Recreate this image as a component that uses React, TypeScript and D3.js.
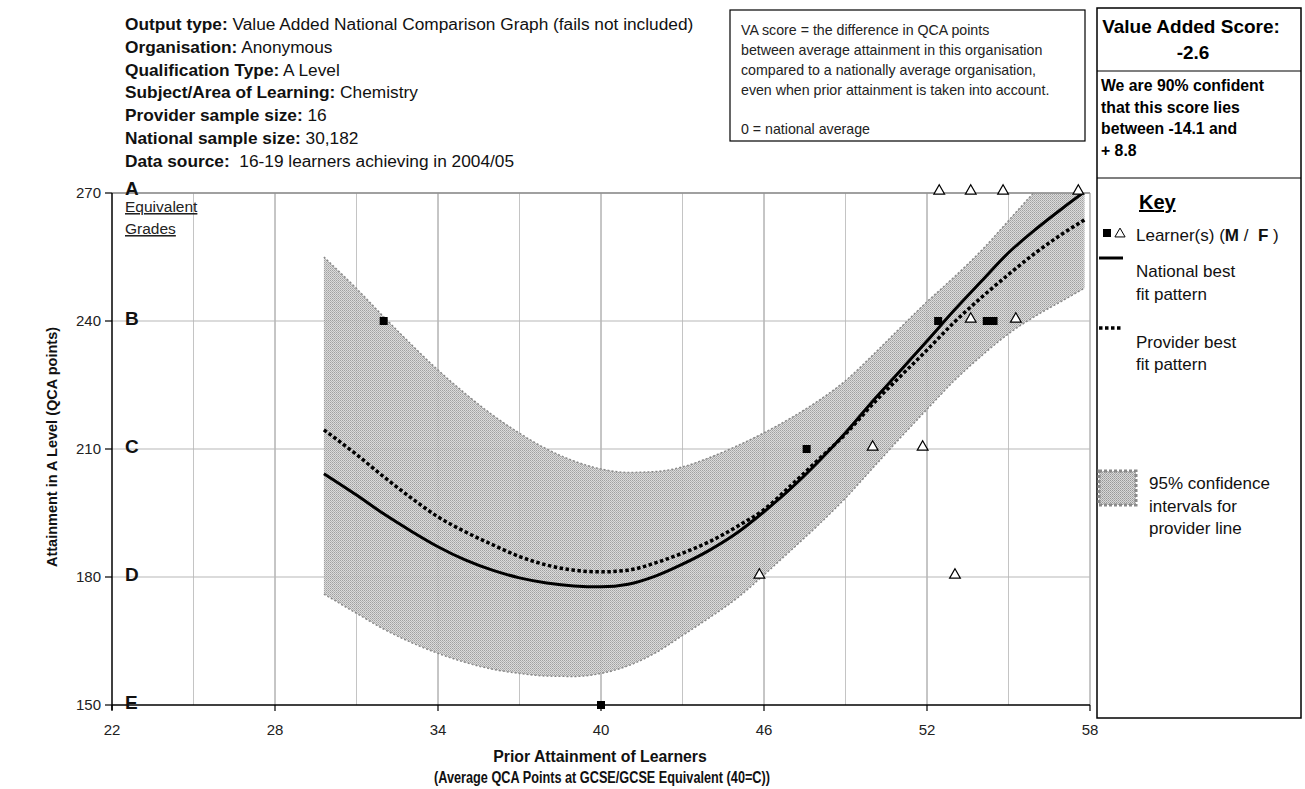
import React, { useEffect, useRef } from 'react';
import * as d3 from 'd3';

// prior attainment (GCSE QCA points) sample positions for fitted curves
const priorX = [29.8, 31, 32, 33, 34, 35, 36, 37, 38, 39, 40, 41, 42, 43, 44, 45, 46, 47, 48, 49, 50, 51, 52, 53, 54, 55, 56, 57, 57.8];
const nationalFit = [204.2, 199.2, 194.8, 190.8, 187.1, 184, 181.6, 179.8, 178.6, 177.9, 177.7, 178.3, 180.2, 183, 186.3, 190.3, 195.3, 200.8, 207, 213.8, 221.2, 228.2, 235.3, 242.5, 249.3, 256, 261.5, 266.5, 270.3];
const providerFit = [214.5, 208.7, 203.5, 198.6, 194.1, 190.6, 187.6, 184.8, 182.8, 181.6, 181.2, 181.6, 183.3, 185.6, 188.3, 191.8, 195.8, 201.5, 207.5, 213.5, 220.5, 226.9, 233.2, 239.7, 245.5, 250.9, 256, 260.5, 263.7];
const ciUpper = [255, 247.6, 241, 234.6, 228.5, 223, 218, 213.7, 210, 207.2, 205.3, 204.5, 204.7, 205.8, 208, 210.7, 213.8, 217.3, 221.3, 226, 232, 238.3, 244.5, 250.3, 256.5, 263.5, 270.5, 276.5, 281];
const ciLower = [176, 171.5, 167.8, 164.7, 162.1, 160, 158.4, 157.4, 156.8, 156.7, 157.4, 159.2, 162.2, 166.3, 170.5, 175, 180.5, 186.3, 192.2, 198.5, 205.5, 212.5, 219.3, 226, 231.8, 237, 241.2, 244.8, 247.7];

// learners
const maleX = [32, 40, 47.57, 52.41, 54.2, 54.45];
const maleY = [240, 150, 210, 240, 240, 240];
const femaleX = [52.45, 53.61, 54.8, 57.57, 53.61, 55.27, 50, 51.84, 45.83, 53.03];
const femaleY = [270, 270, 270, 270, 240, 240, 210, 210, 180, 180];

const xTicks = [22, 28, 34, 40, 46, 52, 58];
const xMinorGrid = [25, 31, 37, 43, 49, 55];
const yTicks = [150, 180, 210, 240, 270];
const gradeLabels = ['E', 'D', 'C', 'B', 'A'];

const headerLines: [string, string][] = [
  ['Output type:', ' Value Added National Comparison Graph (fails not included)'],
  ['Organisation:', ' Anonymous'],
  ['Qualification Type:', ' A Level'],
  ['Subject/Area of Learning:', ' Chemistry'],
  ['Provider sample size:', ' 16'],
  ['National sample size:', ' 30,182'],
  ['Data source:', '  16-19 learners achieving in 2004/05'],
];
const vaLines = [
  'VA score = the difference in QCA points',
  'between average attainment in this organisation',
  'compared to a nationally average organisation,',
  'even when prior attainment is taken into account.',
];
const confLines = ['We are 90% confident', 'that this score lies', 'between -14.1 and', '+ 8.8'];

const FONT = 'Liberation Sans, Arial, sans-serif';

export default function App() {
  const ref = useRef<SVGSVGElement | null>(null);

  useEffect(() => {
    document.body.style.margin = '0';
    const node = ref.current;
    if (!node) return;
    const svg = d3.select(node);
    svg.selectAll('*').remove();
    svg.attr('font-family', FONT);

    const x = d3.scaleLinear().domain([22, 58]).range([112, 1090]);
    const y = d3.scaleLinear().domain([150, 270]).range([705, 193]);

    const defs = svg.append('defs');
    const pat = defs.append('pattern').attr('id', 'stipple').attr('width', 2).attr('height', 2).attr('patternUnits', 'userSpaceOnUse');
    pat.append('rect').attr('width', 2).attr('height', 2).attr('fill', '#d8d8d8');
    pat.append('rect').attr('width', 1).attr('height', 1).attr('fill', '#999');
    pat.append('rect').attr('x', 1).attr('y', 1).attr('width', 1).attr('height', 1).attr('fill', '#adadad');
    defs.append('clipPath').attr('id', 'plotclip').append('rect')
      .attr('x', x(22)).attr('y', y(270)).attr('width', x(58) - x(22)).attr('height', y(150) - y(270));

    // header text
    headerLines.forEach(([lab, val], i) => {
      const t = svg.append('text').attr('x', 125).attr('y', 30 + i * 22.8).attr('font-size', 17.3).attr('fill', '#111');
      t.append('tspan').attr('font-weight', 700).text(lab);
      t.append('tspan').attr('style', 'white-space:pre').text(val);
    });

    // VA explanation box
    svg.append('rect').attr('x', 730).attr('y', 10).attr('width', 355).attr('height', 131).attr('fill', 'none').attr('stroke', '#000').attr('stroke-width', 1.2);
    vaLines.forEach((s, i) => {
      svg.append('text').attr('x', 741).attr('y', 35 + i * 20).attr('font-size', 14.2).attr('fill', '#222').text(s);
    });
    svg.append('text').attr('x', 741).attr('y', 134).attr('font-size', 14.2).attr('fill', '#222').text('0 = national average');

    // right panel
    svg.append('rect').attr('x', 1097).attr('y', 8).attr('width', 204).attr('height', 710).attr('fill', 'none').attr('stroke', '#000').attr('stroke-width', 1.5);
    svg.append('line').attr('x1', 1097).attr('x2', 1301).attr('y1', 71).attr('y2', 71).attr('stroke', '#000').attr('stroke-width', 1.2);
    svg.append('line').attr('x1', 1097).attr('x2', 1301).attr('y1', 178).attr('y2', 178).attr('stroke', '#000').attr('stroke-width', 1.2);
    svg.append('text').attr('x', 1191).attr('y', 33).attr('text-anchor', 'middle').attr('font-size', 19).attr('font-weight', 700).text('Value Added Score:');
    svg.append('text').attr('x', 1193).attr('y', 59).attr('text-anchor', 'middle').attr('font-size', 19).attr('font-weight', 700).text('-2.6');
    confLines.forEach((s, i) => {
      svg.append('text').attr('x', 1101).attr('y', 91 + i * 21.7).attr('font-size', 15.8).attr('font-weight', 700).text(s);
    });

    // key
    svg.append('text').attr('x', 1139).attr('y', 209).attr('font-size', 20).attr('font-weight', 700).attr('text-decoration', 'underline').text('Key');
    svg.append('rect').attr('x', 1103).attr('y', 229).attr('width', 8).attr('height', 8).attr('fill', '#000');
    svg.append('path').attr('d', d3.symbol(d3.symbolTriangle, 45)()).attr('transform', 'translate(1120,234)').attr('fill', '#fff').attr('stroke', '#000');
    const lt = svg.append('text').attr('x', 1136).attr('y', 241).attr('font-size', 17).attr('fill', '#111');
    lt.append('tspan').text('Learner(s) (');
    lt.append('tspan').attr('font-weight', 700).text('M');
    lt.append('tspan').attr('style', 'white-space:pre').text(' /  ');
    lt.append('tspan').attr('font-weight', 700).text('F');
    lt.append('tspan').attr('style', 'white-space:pre').text(' )');
    svg.append('line').attr('x1', 1099).attr('x2', 1123).attr('y1', 258).attr('y2', 258).attr('stroke', '#000').attr('stroke-width', 3);
    svg.append('text').attr('x', 1136).attr('y', 277).attr('font-size', 17).attr('fill', '#111').text('National best');
    svg.append('text').attr('x', 1136).attr('y', 300).attr('font-size', 17).attr('fill', '#111').text('fit pattern');
    svg.append('line').attr('x1', 1099).attr('x2', 1123).attr('y1', 328).attr('y2', 328).attr('stroke', '#000').attr('stroke-width', 3.5).attr('stroke-dasharray', '3.5,2.5');
    svg.append('text').attr('x', 1136).attr('y', 348).attr('font-size', 17).attr('fill', '#111').text('Provider best');
    svg.append('text').attr('x', 1136).attr('y', 370).attr('font-size', 17).attr('fill', '#111').text('fit pattern');
    svg.append('rect').attr('x', 1099).attr('y', 471).attr('width', 37).attr('height', 34).attr('fill', 'url(#stipple)').attr('stroke', '#8a8a8a').attr('stroke-width', 3).attr('stroke-dasharray', '3,2');
    ['95% confidence', 'intervals for', 'provider line'].forEach((s, i) => {
      svg.append('text').attr('x', 1149).attr('y', 489 + i * 22.5).attr('font-size', 17).attr('fill', '#111').text(s);
    });

    // grid
    const g = svg.append('g');
    g.selectAll('line.ming').data(xMinorGrid).enter().append('line')
      .attr('x1', d => x(d)).attr('x2', d => x(d)).attr('y1', y(270)).attr('y2', y(150)).attr('stroke', '#c4c4c4').attr('stroke-width', 1);
    g.selectAll('line.majg').data(xTicks.slice(1)).enter().append('line')
      .attr('x1', d => x(d)).attr('x2', d => x(d)).attr('y1', y(270)).attr('y2', y(150)).attr('stroke', '#8c8c8c').attr('stroke-width', 1);
    g.selectAll('line.hg').data(yTicks.slice(1)).enter().append('line')
      .attr('x1', x(22)).attr('x2', x(58)).attr('y1', d => y(d)).attr('y2', d => y(d)).attr('stroke', '#b8b8b8').attr('stroke-width', 1.2);

    // confidence band
    const plot = svg.append('g').attr('clip-path', 'url(#plotclip)');
    const band = priorX.map((px, i) => ({ x: px, lo: ciLower[i], hi: ciUpper[i] }));
    const area = d3.area<{ x: number; lo: number; hi: number }>().x(d => x(d.x)).y0(d => y(d.lo)).y1(d => y(d.hi)).curve(d3.curveMonotoneX);
    plot.append('path').datum(band).attr('d', area).attr('fill', 'url(#stipple)').attr('opacity', 0.92);
    const edge = d3.line<number>().x((d, i) => x(priorX[i])).y(d => y(d)).curve(d3.curveMonotoneX);
    plot.append('path').datum(ciUpper).attr('d', edge).attr('fill', 'none').attr('stroke', '#8a8a8a').attr('stroke-width', 1.5).attr('stroke-dasharray', '2,2');
    plot.append('path').datum(ciLower).attr('d', edge).attr('fill', 'none').attr('stroke', '#8a8a8a').attr('stroke-width', 1.5).attr('stroke-dasharray', '2,2');

    // fit lines
    plot.append('path').datum(nationalFit).attr('d', edge).attr('fill', 'none').attr('stroke', '#000').attr('stroke-width', 3);
    plot.append('path').datum(providerFit).attr('d', edge).attr('fill', 'none').attr('stroke', '#000').attr('stroke-width', 3.5).attr('stroke-dasharray', '3.5,2.5');

    // axes
    svg.append('line').attr('x1', x(22)).attr('x2', x(58)).attr('y1', y(270)).attr('y2', y(270)).attr('stroke', '#8c8c8c').attr('stroke-width', 1.5);
    svg.append('line').attr('x1', x(22)).attr('x2', x(22)).attr('y1', y(270)).attr('y2', y(150) + 5).attr('stroke', '#000').attr('stroke-width', 1.5);
    svg.append('line').attr('x1', x(22)).attr('x2', x(58)).attr('y1', y(150)).attr('y2', y(150)).attr('stroke', '#000').attr('stroke-width', 1.5);
    svg.selectAll('line.ytk').data(yTicks).enter().append('line')
      .attr('x1', x(22) - 7).attr('x2', x(22)).attr('y1', d => y(d)).attr('y2', d => y(d)).attr('stroke', '#000').attr('stroke-width', 1.2);
    svg.selectAll('line.xtk').data(xTicks).enter().append('line')
      .attr('x1', d => x(d)).attr('x2', d => x(d)).attr('y1', y(150)).attr('y2', y(150) + 6).attr('stroke', '#000').attr('stroke-width', 1.2);
    svg.selectAll('text.ytl').data(yTicks).enter().append('text')
      .attr('x', x(22) - 11).attr('y', d => y(d) + 5).attr('text-anchor', 'end').attr('font-size', 15).attr('fill', '#222').text(d => d);
    svg.selectAll('text.xtl').data(xTicks).enter().append('text')
      .attr('x', d => x(d)).attr('y', y(150) + 30).attr('text-anchor', 'middle').attr('font-size', 15).attr('fill', '#222').text(d => d);

    // grade letters
    svg.selectAll('text.grade').data(yTicks).enter().append('text')
      .attr('x', 125).attr('y', d => y(d) + (d === 270 ? 2 : 4)).attr('font-size', 19).attr('font-weight', 700).attr('fill', '#111').text((d, i) => gradeLabels[i]);
    svg.append('text').attr('x', 125).attr('y', 212).attr('font-size', 15.5).attr('fill', '#222').attr('text-decoration', 'underline').text('Equivalent');
    svg.append('text').attr('x', 125).attr('y', 234).attr('font-size', 15.5).attr('fill', '#222').attr('text-decoration', 'underline').text('Grades');

    // axis titles
    svg.append('text').attr('transform', `translate(57,${(y(270) + y(150)) / 2 - 2}) rotate(-90)`).attr('text-anchor', 'middle')
      .attr('font-size', 14.5).attr('font-weight', 700).attr('fill', '#111').text('Attainment in A Level (QCA points)');
    svg.append('text').attr('x', 600).attr('y', 762).attr('text-anchor', 'middle').attr('font-size', 15.8).attr('font-weight', 700).attr('fill', '#111').text('Prior Attainment of Learners');
    svg.append('text').attr('x', 602).attr('y', 783).attr('text-anchor', 'middle').attr('font-size', 15.8).attr('font-weight', 700).attr('fill', '#111')
      .attr('textLength', 336).attr('lengthAdjust', 'spacingAndGlyphs').text('(Average QCA Points at GCSE/GCSE Equivalent (40=C))');

    // learners
    svg.selectAll('rect.male').data(maleX).enter().append('rect')
      .attr('x', (d) => x(d) - 4).attr('y', (d, i) => y(maleY[i]) - 4).attr('width', 8).attr('height', 8).attr('fill', '#000');
    const tri = d3.symbol(d3.symbolTriangle, 50)();
    svg.selectAll('path.female').data(femaleX).enter().append('path')
      .attr('d', tri).attr('transform', (d, i) => `translate(${x(d)},${y(femaleY[i]) - 2})`).attr('fill', '#fff').attr('stroke', '#000').attr('stroke-width', 1.2);
  }, []);

  return <svg ref={ref} width={1305} height={789} style={{ display: 'block', background: '#fff' }} />;
}
